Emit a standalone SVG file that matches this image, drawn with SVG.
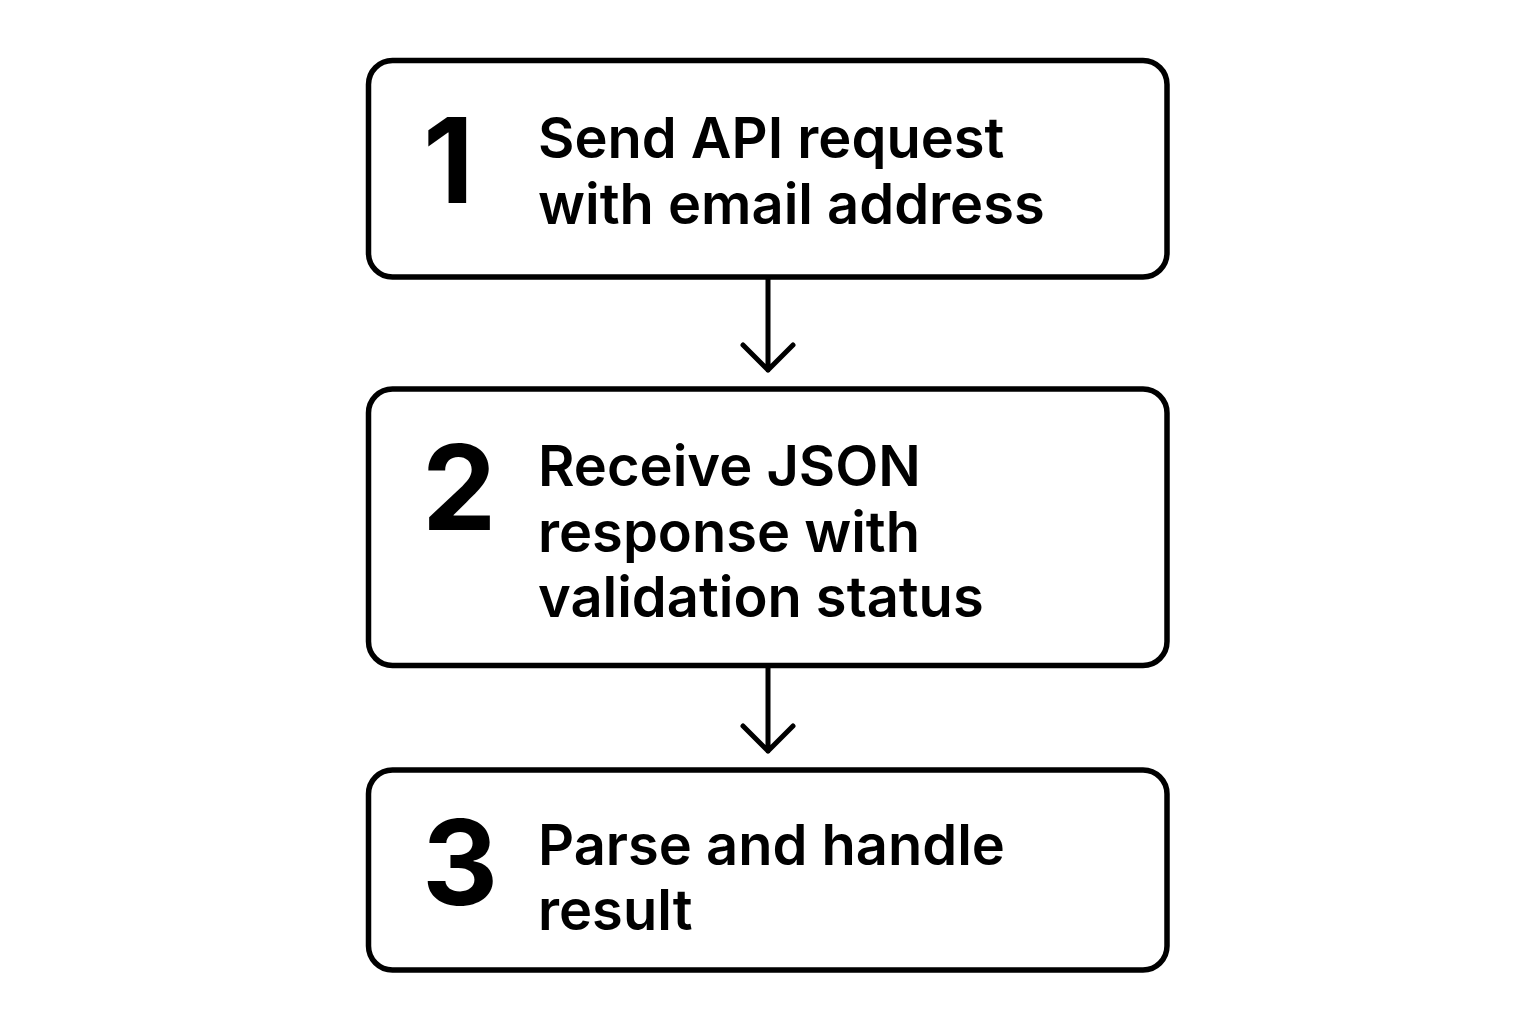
<svg xmlns="http://www.w3.org/2000/svg" width="1536" height="1024" viewBox="0 0 1536 1024">
<style>
.box{fill:#fff;stroke:#000;stroke-width:5.5}
.num{font-family:Inter,"Noto Sans",sans-serif;font-weight:700;font-size:118px;fill:#000}
.lbl{font-family:Inter,"Noto Sans",sans-serif;font-weight:600;font-size:56px;fill:#000}
.con{fill:none;stroke:#000;stroke-width:5;stroke-linecap:round;stroke-linejoin:round}
</style>
<rect width="1536" height="1024" fill="#fff"/>
<g id="connectors">
<path class="con" d="M768 279V370M743 345L768 370L793 345"/>
<path class="con" d="M768 667V751M743 726L768 751L793 726"/>
</g>
<g id="node1">
<rect class="box" x="368.5" y="60.5" width="798.5" height="216.5" rx="24"/>
<text class="num" x="423" y="203">1</text>
<text class="lbl" x="538" y="158">Send API request</text>
<text class="lbl" x="538" y="224">with email address</text>
</g>
<g id="node2">
<rect class="box" x="368.5" y="389" width="798.5" height="276.5" rx="24"/>
<text class="num" x="422" y="530">2</text>
<text class="lbl" x="538" y="486">Receive JSON</text>
<text class="lbl" x="538" y="552">response with</text>
<text class="lbl" x="538" y="617">validation status</text>
</g>
<g id="node3">
<rect class="box" x="368.5" y="770" width="798.5" height="200" rx="24"/>
<text class="num" x="422" y="905">3</text>
<text class="lbl" x="538" y="865">Parse and handle</text>
<text class="lbl" x="538" y="930">result</text>
</g>
</svg>
